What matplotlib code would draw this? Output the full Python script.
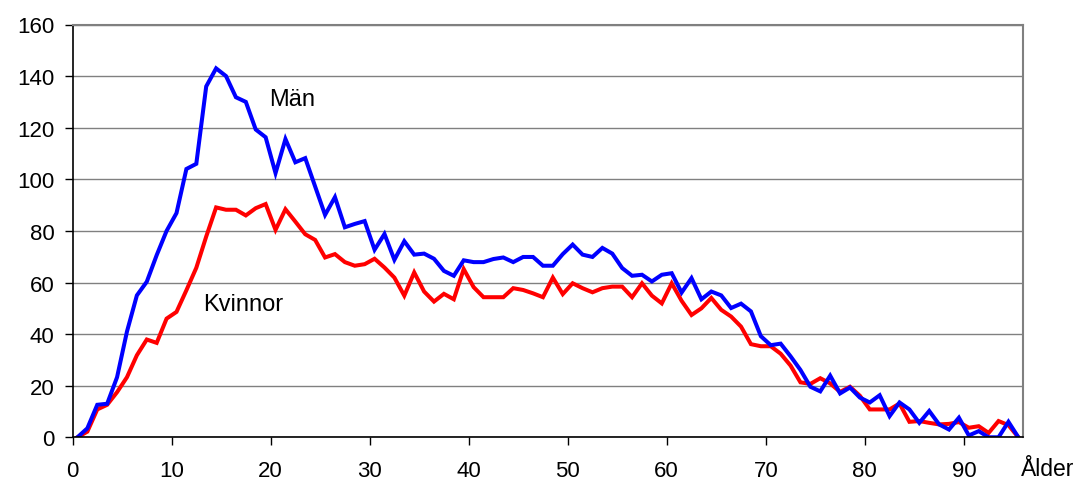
import numpy as np
import matplotlib
matplotlib.use('Agg')
import matplotlib.pyplot as plt

plt.rcParams['font.family'] = ['Liberation Sans', 'DejaVu Sans']

# ålder 0..95 (kategorier)
alder = np.arange(96)

man = [0, 3.5, 12.6, 13, 23.3, 41, 55, 60.3, 70.6, 80,
       86.9, 104, 106, 136, 143, 140, 131.8, 130, 119.3, 116.3,
       102.4, 115.6, 106.6, 108.2, 97.2, 86.2, 93.1, 81.4, 82.7, 83.8,
       72.7, 78.8, 68.8, 76, 70.8, 71.2, 69.2, 64.5, 62.6, 68.6,
       67.9, 67.9, 69.1, 69.7, 67.9, 69.9, 69.9, 66.5, 66.5, 71,
       74.7, 70.8, 69.9, 73.4, 71.2, 65.6, 62.6, 63, 60.4, 63,
       63.6, 56.1, 61.7, 53.5, 56.5, 55, 50.1, 51.8, 48.8, 39.2,
       35.7, 36.3, 31.4, 26.1, 19.6, 17.8, 23.9, 17, 19.3, 15.4,
       13.5, 16.3, 8.2, 13.5, 10.8, 5.6, 10.2, 5, 3, 7.6,
       0.7, 2.4, 0, 0, 6, 0]

kvinnor = [0, 2.2, 10.8, 12.6, 17.5, 23.3, 31.8, 37.9, 36.6, 46,
           48.6, 57, 65.7, 77.8, 89.1, 88.2, 88.2, 86, 88.8, 90.4,
           80.4, 88.4, 83.6, 78.7, 76.5, 69.7, 71, 67.9, 66.5, 67.1,
           69.2, 65.8, 61.9, 54.9, 63.9, 56.5, 52.6, 55.6, 53.5, 65.2,
           58.2, 54.3, 54.3, 54.3, 57.8, 57.1, 55.8, 54.3, 61.9, 55.5,
           59.7, 57.8, 56.2, 57.8, 58.4, 58.4, 54.3, 59.7, 54.9, 51.9,
           59.7, 52.9, 47.4, 50, 54, 49.4, 46.8, 42.9, 36.1, 35.3,
           35.3, 32.4, 27.8, 21.3, 20.7, 22.9, 20.9, 17.6, 19.6, 16.1,
           10.8, 10.8, 10.8, 13.1, 6, 6.3, 5.6, 5, 5.2, 5.9,
           3.7, 4.3, 1.7, 6.3, 4.7, 0]

fig = plt.figure(figsize=(10.79, 4.81), dpi=100)
ax = fig.add_axes([72.5 / 1079, 1 - 438.3 / 481, (1023.3 - 72.5) / 1079, (438.3 - 25.5) / 481])

x = alder + 0.5
ax.plot(x, kvinnor, color='#ff0000', lw=2.9, solid_joinstyle='miter')
ax.plot(x, man, color='#0000ff', lw=2.9, solid_joinstyle='miter')

ax.set_xlim(0, 96)
ax.set_ylim(0, 160)
ax.set_xticks(np.arange(0, 91, 10))
ax.set_yticks(np.arange(0, 161, 20))
ax.yaxis.grid(True, color='#808080', lw=1)
ax.set_axisbelow(True)

ax.tick_params(axis='both', labelsize=16, direction='out', length=6, width=1, color='black')
ax.tick_params(axis='x', pad=10)
ax.tick_params(axis='y', pad=7)

for s in ['top', 'right']:
    ax.spines[s].set_color('#808080')
    ax.spines[s].set_linewidth(1.5)
for s in ['left', 'bottom']:
    ax.spines[s].set_color('black')
    ax.spines[s].set_linewidth(1.2)

ax.text(19.9, 131, 'Män', fontsize=17, ha='left', va='center')
ax.text(13.2, 51.5, 'Kvinnor', fontsize=17, ha='left', va='center')
fig.text(1021 / 1079, 1 - 476 / 481, 'Ålder', fontsize=16.5, ha='left', va='baseline')

fig.savefig('out.png', dpi=100)
